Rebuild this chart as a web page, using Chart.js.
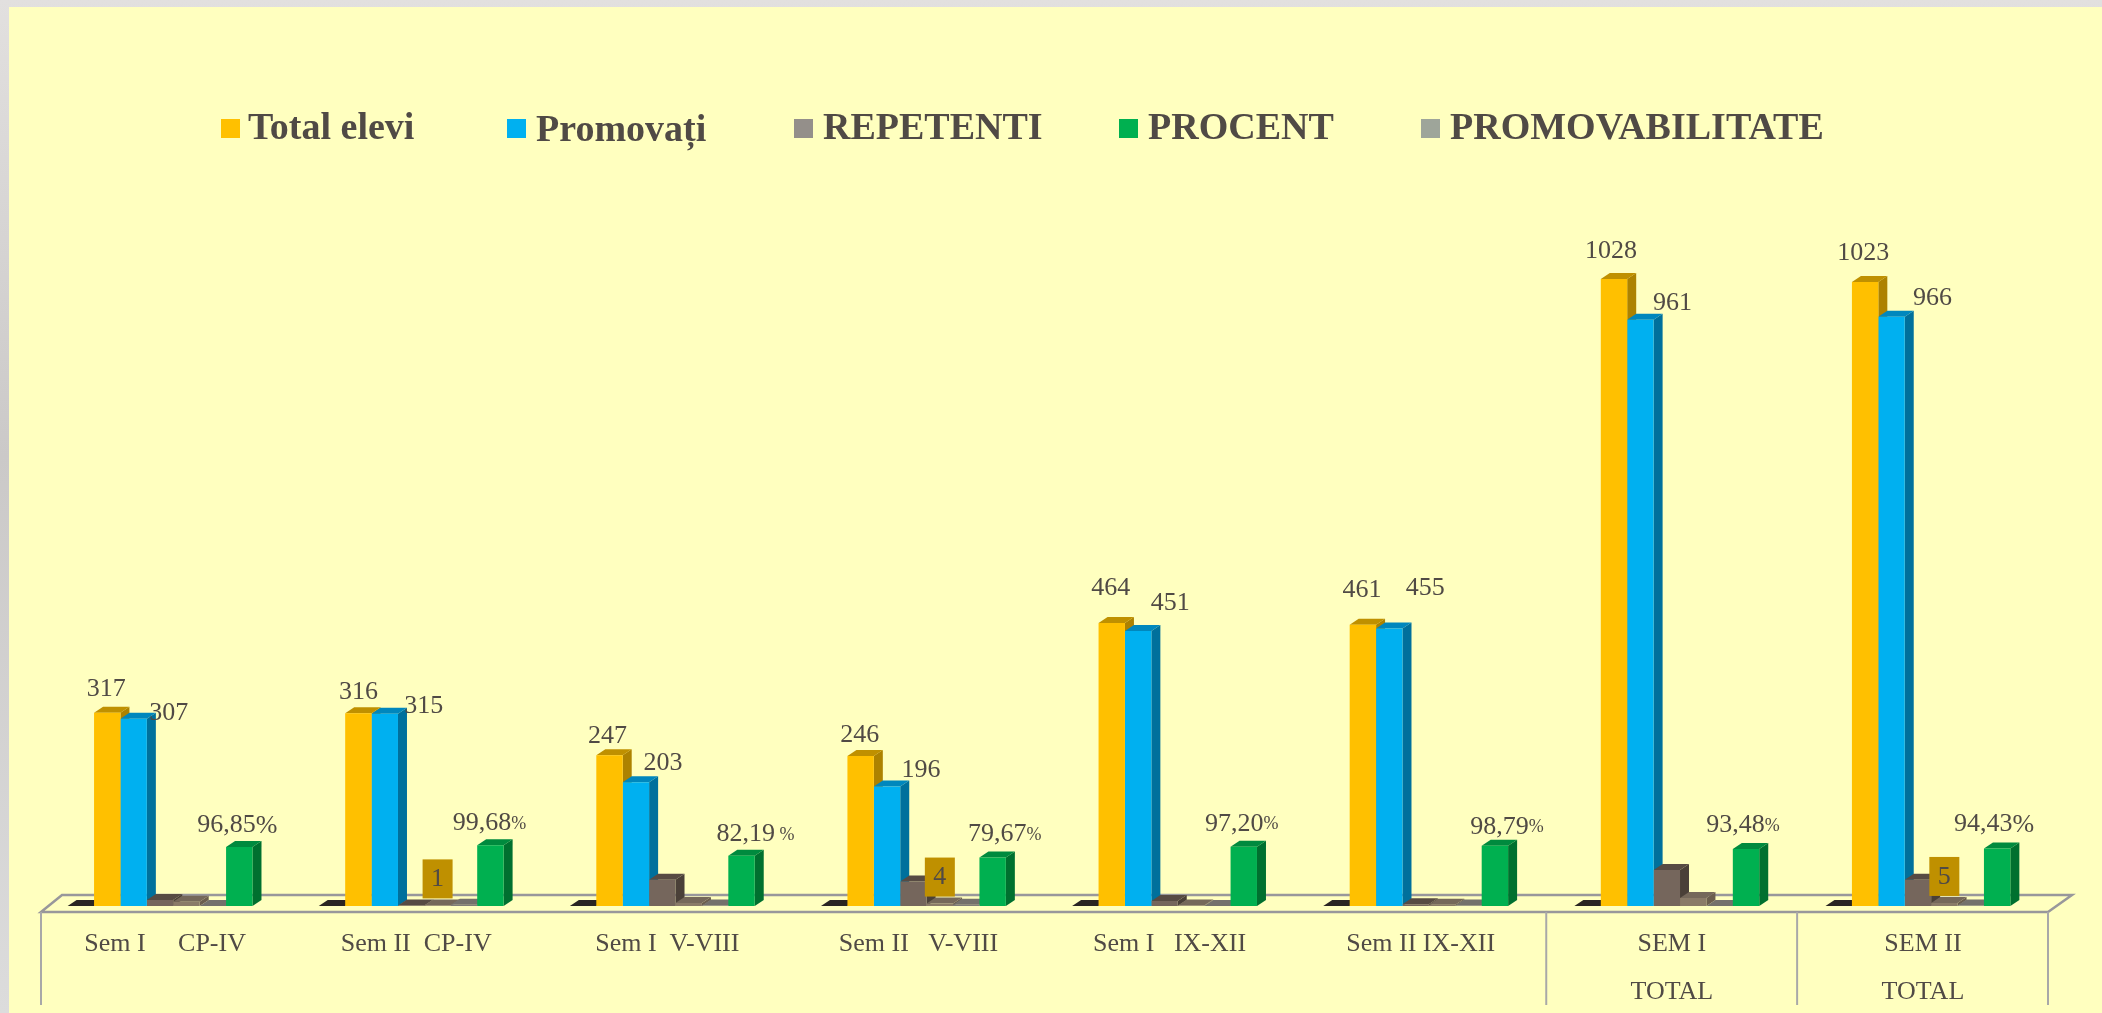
<!DOCTYPE html>
<html>
<head>
<meta charset="utf-8">
<title>Total elevi / Promovați</title>
<script src="https://cdn.jsdelivr.net/npm/chart.js@4"></script>
<style>
  html, body { margin: 0; padding: 0; overflow: hidden; }
  body {
    width: 2102px; height: 1013px;
    background: linear-gradient(to bottom, #e2e0df 0%, #cbc9c8 45%, #dcdcdc 100%);
  }
  canvas { display: block; }
</style>
</head>
<body>
<canvas id="chart" width="2102" height="1013"></canvas>
<script>
// Data
var categories = [
  "Sem I     CP-IV", "Sem II  CP-IV", "Sem I  V-VIII", "Sem II   V-VIII",
  "Sem I   IX-XII", "Sem II IX-XII", ["SEM I", "TOTAL"], ["SEM II", "TOTAL"]
];
var totalElevi = [317, 316, 247, 246, 464, 461, 1028, 1023];
var promovati = [307, 315, 203, 196, 451, 455, 961, 966];
var repetenti = [10, 1, 43, 40, 8, 3, 59, 43];
var unnamedSeries = [7, 1, 5, 4, 1, 2, 13, 5];       // tan bars, some carry a boxed label
var promovabilitate = [0, 2, 1, 2, 0, 1, 0, 1];
var procent = [96.85, 99.68, 82.19, 79.67, 97.20, 98.79, 93.48, 94.43];
var emptySeries = [0, 0, 0, 0, 0, 0, 0, 0];          // dark flat bars left of each group
var boxedLabels = [null, 1, null, 4, null, null, null, 5];
var percentSuffix = ["%", "%", " %", "%", "%", "%", "%", "%"];
var legendNames = ["Total elevi", "Promovați", "REPETENTI", "PROCENT", "PROMOVABILITATE"];

// Styling
var legendColors = ["#FFC000", "#00B0F0", "#948F8A", "#00B050", "#9EA59A"];
var legendSwatchX = [221, 507, 794, 1119, 1421];
var legendTextX = [248, 536, 823, 1148, 1450];
var legendTextDy = [0, 2, 0, 0, 0];
var percentSuffixSize = [26, 18, 18, 18, 18, 18, 18, 26];
var totalNudge = [[-1, -23], [0, -21], [-2, -19], [-1, -21], [-1, -35], [-1, -35], [-3, -28], [-2, -29]];
var promovatiNudge = [[35, -6], [39, -8], [27, -19], [34, -16], [32, -28], [36, -40], [32, -17], [41, -19]];
var procentNudge = [[-2, -22], [-1, -22], [14, -22], [12, -23], [-2, -23], [12, -19], [-3, -24], [-3, -24]];

var textColor = "#504A45";
var depthX = 9;
var depthY = 6;

function series(label, data, front, side, top) {
  return {
    label: label, data: data, backgroundColor: front,
    sideColor: side, topColor: top,
    barPercentage: 1, categoryPercentage: 0.736
  };
}

// 3D look: all side and top faces go down first, left to right, the fronts then cover them
var depthFaces = {
  id: "depthFaces",
  beforeDatasetsDraw: function (chart) {
    var ctx = chart.ctx;
    chart.data.datasets.forEach(function (ds, index) {
      chart.getDatasetMeta(index).data.forEach(function (bar) {
        var left = bar.x - bar.width / 2;
        var right = bar.x + bar.width / 2;
        ctx.fillStyle = ds.sideColor;
        ctx.beginPath();
        ctx.moveTo(right, bar.y);
        ctx.lineTo(right + depthX, bar.y - depthY);
        ctx.lineTo(right + depthX, bar.base - depthY);
        ctx.lineTo(right, bar.base);
        ctx.closePath();
        ctx.fill();
        ctx.fillStyle = ds.topColor;
        ctx.beginPath();
        ctx.moveTo(left, bar.y);
        ctx.lineTo(left + depthX, bar.y - depthY);
        ctx.lineTo(right + depthX, bar.y - depthY);
        ctx.lineTo(right, bar.y);
        ctx.closePath();
        ctx.fill();
      });
    });
  }
};

// Yellow panel, floor of the 3D box and the category dividers
var panelAndFloor = {
  id: "panelAndFloor",
  beforeDraw: function (chart) {
    var ctx = chart.ctx;
    ctx.save();
    ctx.fillStyle = "#FFFFBF";
    ctx.fillRect(9, 7, chart.width - 9, chart.height - 7);
    ctx.restore();
  },
  beforeDatasetsDraw: function (chart) {
    var ctx = chart.ctx;
    var area = chart.chartArea;
    var frontLeft = area.left + 6.5;
    var frontRight = area.right + 4.5;
    var frontY = area.bottom + 6;
    var backY = area.bottom - 11;
    ctx.save();
    ctx.strokeStyle = "#98979B";
    ctx.lineWidth = 2.5;
    ctx.beginPath();
    ctx.moveTo(frontLeft + 21, backY);
    ctx.lineTo(frontRight + 24, backY);
    ctx.lineTo(frontRight, frontY);
    ctx.lineTo(frontLeft, frontY);
    ctx.closePath();
    ctx.stroke();
    ctx.strokeStyle = "#A8A8A8";
    ctx.lineWidth = 2;
    var step = (frontRight - frontLeft) / categories.length;
    [0, 6, 7, 8].forEach(function (i) {
      var x = frontLeft + step * i;
      ctx.beginPath();
      ctx.moveTo(x, frontY);
      ctx.lineTo(x, frontY + 93);
      ctx.stroke();
    });
    ctx.restore();
  }
};

// Value labels and the boxed small values
var valueLabels = {
  id: "valueLabels",
  afterDatasetsDraw: function (chart) {
    var ctx = chart.ctx;
    ctx.save();
    ctx.fillStyle = textColor;
    ctx.textBaseline = "middle";
    ctx.textAlign = "center";
    ctx.font = "26px 'Liberation Serif'";

    function plain(datasetIndex, values, nudge) {
      chart.getDatasetMeta(datasetIndex).data.forEach(function (bar, i) {
        ctx.fillText(String(values[i]), bar.x + nudge[i][0], bar.y + nudge[i][1]);
      });
    }
    plain(1, totalElevi, totalNudge);
    plain(2, promovati, promovatiNudge);

    ctx.textAlign = "left";
    chart.getDatasetMeta(6).data.forEach(function (bar, i) {
      var number = procent[i].toFixed(2).replace(".", ",");
      ctx.font = "26px 'Liberation Serif'";
      var w1 = ctx.measureText(number).width;
      ctx.font = percentSuffixSize[i] + "px 'Liberation Serif'";
      var w2 = ctx.measureText(percentSuffix[i]).width;
      var x = bar.x + procentNudge[i][0] - (w1 + w2) / 2;
      var y = bar.y + procentNudge[i][1];
      ctx.font = "26px 'Liberation Serif'";
      ctx.fillText(number, x, y);
      ctx.font = percentSuffixSize[i] + "px 'Liberation Serif'";
      ctx.fillText(percentSuffix[i], x + w1, y + 1);
    });

    ctx.textAlign = "center";
    ctx.font = "26px 'Liberation Serif'";
    chart.getDatasetMeta(4).data.forEach(function (bar, i) {
      if (boxedLabels[i] === null) return;
      ctx.fillStyle = "#BF9000";
      ctx.fillRect(bar.x - 15, bar.y - 46, 30, 39);
      ctx.fillStyle = textColor;
      ctx.fillText(String(boxedLabels[i]), bar.x, bar.y - 26);
    });
    ctx.restore();
  }
};

// Legend, spaced by hand like the original
var looseLegend = {
  id: "looseLegend",
  afterDraw: function (chart) {
    var ctx = chart.ctx;
    ctx.save();
    ctx.font = "bold 38px 'Liberation Serif'";
    ctx.textBaseline = "middle";
    ctx.textAlign = "left";
    legendNames.forEach(function (name, i) {
      ctx.fillStyle = legendColors[i];
      ctx.fillRect(legendSwatchX[i], 119, 19, 19);
      ctx.fillStyle = textColor;
      ctx.fillText(name, legendTextX[i], 129.5 + legendTextDy[i]);
    });
    ctx.restore();
  }
};

var chart = new Chart(document.getElementById("chart"), {
  type: "bar",
  data: {
    labels: categories,
    datasets: [
      series("", emptySeries, "#2A2522", "#2A2522", "#2A2522"),
      series(legendNames[0], totalElevi, "#FFC000", "#AD8200", "#BF9000"),
      series(legendNames[1], promovati, "#00B0F0", "#00709C", "#0087BD"),
      series(legendNames[2], repetenti, "#75665C", "#4A4038", "#574B43"),
      series("", unnamedSeries, "#8A7B68", "#6B5E4E", "#75685A"),
      series(legendNames[4], promovabilitate, "#807D78", "#6A6864", "#74716C"),
      series(legendNames[3], procent, "#00B050", "#00702F", "#008A3E")
    ]
  },
  options: {
    responsive: false,
    animation: false,
    layout: { padding: { left: 34.5, right: 58.5, top: 235, bottom: 0 } },
    plugins: { legend: { display: false }, tooltip: { enabled: false } },
    scales: {
      x: {
        grid: { display: false },
        border: { display: false },
        afterFit: function (scale) { scale.height = 107; },
        ticks: {
          autoSkip: false,
          maxRotation: 0,
          padding: 6,
          labelOffset: 5,
          color: textColor,
          font: { family: "'Liberation Serif'", size: 26, lineHeight: 1.85 }
        }
      },
      y: { display: false, min: 0, max: 1100 }
    }
  },
  plugins: [panelAndFloor, depthFaces, valueLabels, looseLegend]
});
</script>
</body>
</html>
